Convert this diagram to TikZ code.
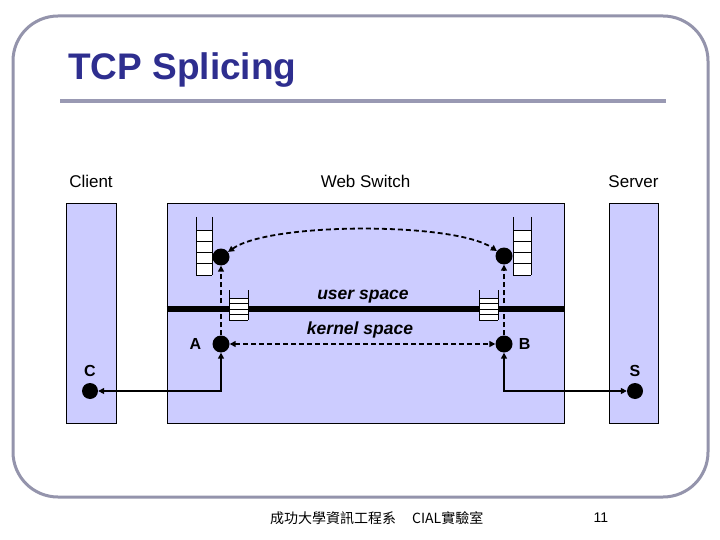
\documentclass[tikz,border=0pt]{standalone}
\usepackage{fontspec}
\setmainfont{Liberation Sans}
\newfontfamily\cjk{Noto Sans CJK TC}
\usepackage{xcolor}
\usetikzlibrary{arrows.meta,positioning}
\definecolor{lav}{HTML}{CCCCFF}
\definecolor{titleblue}{HTML}{2E2E8F}
\definecolor{framegray}{HTML}{9494AC}
\definecolor{rulegray}{HTML}{9999B3}
\begin{document}
\begin{tikzpicture}[x=1pt, y=-1pt,
  hostbox/.style={draw=black, line width=0.8pt, fill=lav, minimum height=220pt, inner sep=0pt},
  dot/.style={circle, fill=black, minimum size=17pt, inner sep=0pt},
  lbl/.style={font=\fontsize{17}{20}\selectfont, inner sep=0pt},
  tag/.style={font=\fontsize{16}{19}\selectfont\bfseries, inner sep=0pt},
  layer/.style={font=\fontsize{17.5}{20}\selectfont\bfseries\itshape, inner sep=0pt},
  solidarr/.style={{Triangle[length=6pt,width=6pt]}-{Triangle[length=6pt,width=6pt]}, line width=1.8pt},
  dasharr/.style={-{Triangle[length=6pt,width=6pt]}, line width=1.8pt, dash pattern=on 5pt off 3pt}
]
  \useasboundingbox (0,0) rectangle (720,540);
  \fill[white] (0,0) rectangle (720,540);
  % slide frame and title
  \draw[line width=3pt, framegray, rounded corners=45pt] (13,16) rectangle (708,497);
  \node[anchor=base west, inner sep=0pt, text=titleblue, font=\fontsize{37}{40}\selectfont\bfseries] (title) at (68,80) {TCP Splicing};
  \draw[line width=4pt, rulegray] (60,101) -- (666,101);

  % hosts
  \node[hostbox, minimum width=50pt] (client) at (91,313) {};
  \node[hostbox, minimum width=397pt] (switch) at (365.5,313) {};
  \node[hostbox, minimum width=49pt] (server) at (633.5,313) {};
  \node[lbl, above=15pt of client] {Client};
  \node[lbl, above=15pt of switch] {Web Switch};
  \node[lbl, above=15pt of server] {Server};

  % user/kernel boundary
  \draw[line width=6pt] (switch.west |- 0,309) -- (switch.east |- 0,309);
  \node[layer] (user) at (363,297) {user space};
  \node[layer] (kernel) at (360,330) {kernel space};

  % socket buffers
  \foreach \bx/\by/\bw/\bh/\btop in {196/230/16/11.25/217, 513/230/18/11.25/217, 229/298/19/5.5/290, 479/298/19/5.5/290} {
    \fill[white] (\bx,\by) rectangle ++(\bw,4*\bh);
    \foreach \k in {0,...,4}
      \draw[line width=0.7pt] (\bx,\by+\k*\bh) -- ++(\bw,0);
    \draw[line width=0.7pt] (\bx,\btop) -- (\bx,\by+4*\bh) (\bx+\bw,\btop) -- (\bx+\bw,\by+4*\bh);
  }

  % endpoints
  \node[dot] (tl) at (221,257) {};
  \node[dot] (tr) at (504,256) {};
  \node[dot] (a) at (221,344) {};
  \node[dot] (b) at (504,344) {};
  \node[dot, minimum size=16pt] (c) at (90,391) {};
  \node[dot, minimum size=16pt] (s) at (635,391) {};
  \node[tag, left=11pt of a] {A};
  \node[tag, right=6pt of b] {B};
  \node[tag, above=6pt of c] {C};
  \node[tag, above=6pt of s] {S};

  % connections
  \draw[solidarr] (c) -| (a);
  \draw[solidarr] (s) -| (b);
  \draw[dasharr] (a) -- (tl);
  \draw[dasharr] (b) -- (tr);
  \draw[dasharr, {Triangle[length=6pt,width=6pt]}-{Triangle[length=6pt,width=6pt]}] (a) -- (b);
  \draw[dasharr, {Triangle[length=6pt,width=6pt]}-{Triangle[length=6pt,width=6pt]}] (tl) .. controls (270,222) and (455,222) .. (tr);

  % footer
  \node[anchor=west, inner sep=0pt, font=\cjk\fontsize{14}{16}\selectfont] (footer) at (270,518) {成功大學資訊工程系\hspace{16pt}CIAL實驗室};
  \node[inner sep=0pt, font=\fontsize{14}{16}\selectfont] (page) at (601,518) {11};
\end{tikzpicture}
\end{document}
